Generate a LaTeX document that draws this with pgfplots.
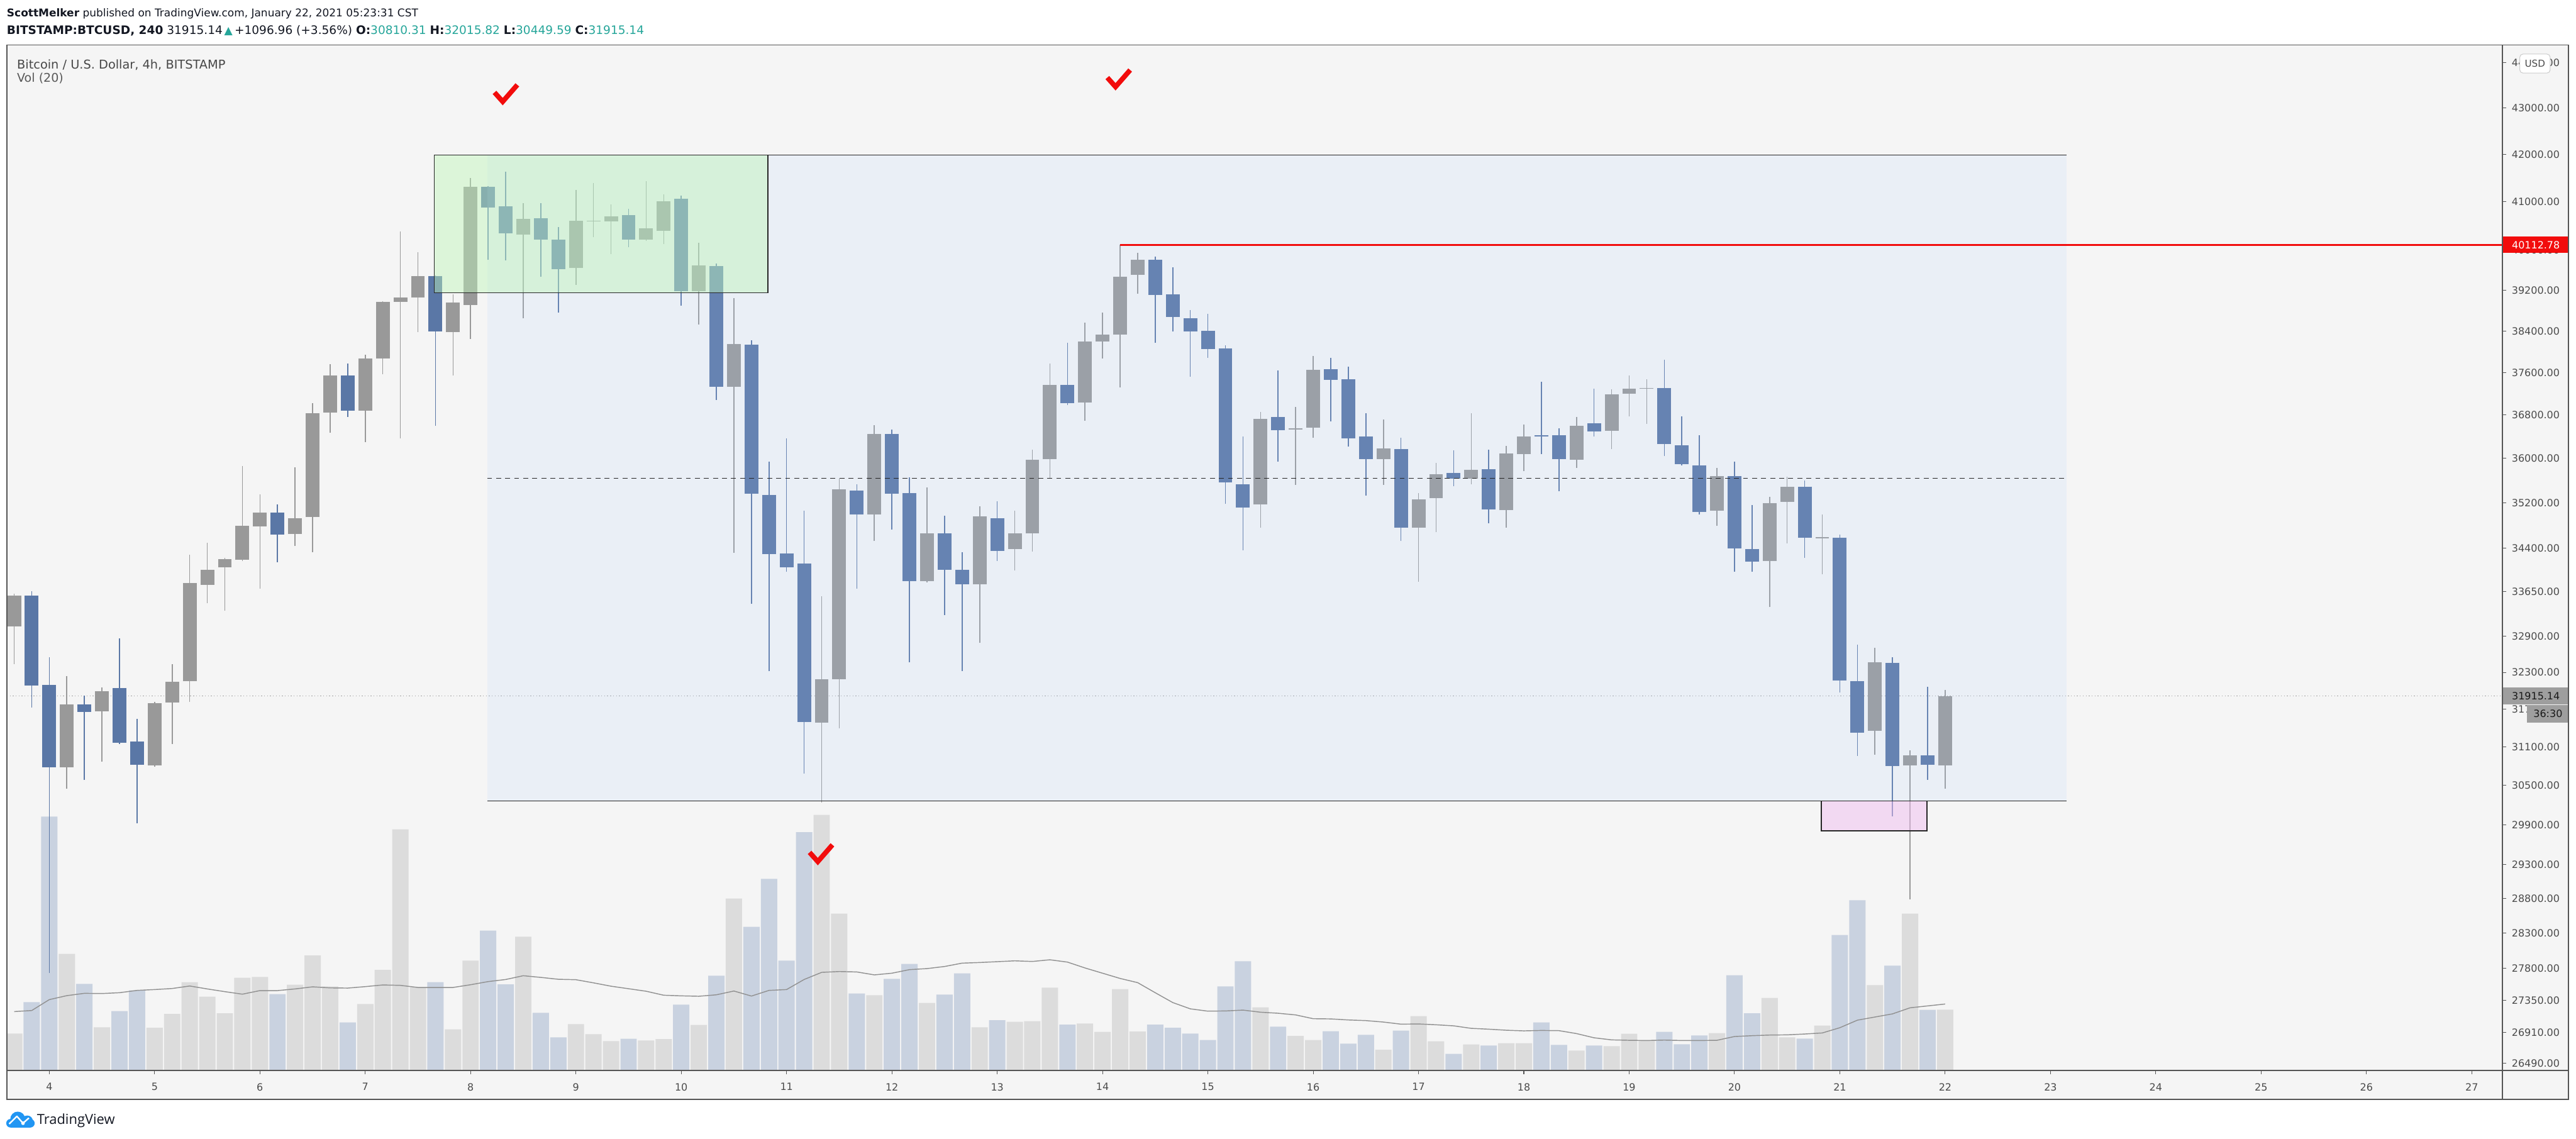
\documentclass[border=0pt]{standalone}
\usepackage{fontspec}
\setmainfont{DejaVu Sans}
\newfontfamily\opensans{Open Sans}
\usepackage{pgfplots}
\pgfplotsset{compat=1.18}
\definecolor{bgc}{RGB}{245,245,245}
\definecolor{framec}{RGB}{85,85,85}
\definecolor{upc}{RGB}{153,153,153}
\definecolor{dnc}{RGB}{90,119,166}
\definecolor{vup}{RGB}{220,220,220}
\definecolor{vdn}{RGB}{201,210,224}
\definecolor{mac}{RGB}{145,145,145}
\definecolor{boxblue}{RGB}{172,205,252}
\definecolor{boxgreen}{RGB}{190,245,185}
\definecolor{boxpink}{RGB}{240,190,240}
\definecolor{tvred}{RGB}{242,12,12}
\definecolor{tvgreen}{RGB}{38,166,154}
\definecolor{txt}{RGB}{19,23,34}
\definecolor{ticktxt}{RGB}{75,75,75}
\definecolor{tvblue}{RGB}{33,150,243}
\newcommand\ticklbl{\fontsize{6.1}{7.5}\selectfont}
\pgfplotsset{chartaxis/.style={scale only axis, width=1519.1pt, height=624.3pt,
  xmin=-2.4146, xmax=139.757, anchor=south west, at={(4.2pt,41.57pt)}}}
\begin{document}
\begin{tikzpicture}
\useasboundingbox (0,0) rectangle (1568pt,693.27pt);
\fill[white] (0,0) rectangle (1568pt,693.27pt);
\fill[bgc] (4.2pt,23.97pt) rectangle (1563.4pt,665.87pt);
% ---------------- volume ----------------
\begin{axis}[chartaxis, ymin=0, ymax=4892, hide axis]
\addplot[ybar, bar width=0.93, bar shift=0pt, fill=vup, draw=none] table[row sep=\\]{x y\\
-2 177\\1 557\\3 207\\6 205\\7 271\\8 422\\9 353\\10 274\\11 443\\12 447\\14 410\\15 550\\16 402\\18 318\\19 481\\20 1151\\21 398\\23 197\\24 525\\27 639\\30 222\\31 174\\32 141\\34 144\\35 151\\37 218\\39 821\\44 1220\\45 749\\47 360\\50 323\\53 207\\55 233\\56 236\\57 396\\59 225\\60 185\\61 389\\62 187\\69 302\\71 166\\72 146\\76 100\\78 260\\79 140\\81 125\\83 131\\84 131\\87 96\\89 117\\90 176\\91 145\\95 179\\98 347\\99 159\\101 215\\104 408\\106 749\\108 291\\};
\addplot[ybar, bar width=0.93, bar shift=0pt, fill=vdn, draw=none] table[row sep=\\]{x y\\
-1 327\\0 1212\\2 414\\4 284\\5 383\\13 365\\17 230\\22 422\\25 668\\26 412\\28 276\\29 159\\33 152\\36 315\\38 453\\40 686\\41 915\\42 525\\43 1138\\46 368\\48 438\\49 509\\51 363\\52 464\\54 241\\58 220\\63 220\\64 205\\65 177\\66 146\\67 402\\68 522\\70 210\\73 188\\74 129\\75 171\\77 191\\80 80\\82 120\\85 230\\86 123\\88 120\\92 185\\93 126\\94 168\\96 455\\97 274\\100 153\\102 647\\103 813\\105 501\\107 290\\};
\addplot[mac, line width=0.55pt, no marks] table[row sep=\\]{x y\\
-2 282\\-1 287\\0 339\\1 358\\2 369\\3 368\\4 372\\5 383\\6 387\\7 392\\8 404\\9 390\\10 377\\11 365\\12 382\\13 382\\14 390\\15 400\\16 395\\17 394\\18 401\\19 409\\20 407\\21 397\\22 397\\23 397\\24 410\\25 425\\26 435\\27 453\\28 445\\29 436\\30 434\\31 419\\32 403\\33 391\\34 379\\35 360\\36 357\\37 355\\38 362\\39 380\\40 356\\41 383\\42 387\\43 435\\44 469\\45 473\\46 471\\47 457\\48 465\\49 482\\50 487\\51 497\\52 513\\53 516\\54 520\\55 524\\56 521\\57 529\\58 518\\59 490\\60 465\\61 440\\62 420\\63 372\\64 325\\65 295\\66 284\\67 285\\68 289\\69 279\\70 274\\71 266\\72 248\\73 247\\74 242\\75 239\\76 232\\77 222\\78 223\\79 219\\80 214\\81 202\\82 198\\83 193\\84 190\\85 192\\86 191\\87 177\\88 157\\89 147\\90 145\\91 144\\92 146\\93 144\\94 144\\95 145\\96 163\\97 167\\98 170\\99 171\\100 175\\101 180\\102 205\\103 241\\104 256\\105 271\\106 300\\107 309\\108 318\\};
\end{axis}
% ---------------- price ----------------
\begin{axis}[chartaxis, ymode=log, ymin=26396, ymax=44397, clip=false,
  unbounded coords=jump, axis line style={draw=none},
  xtick={0,6,...,138}, xticklabels={4,5,6,7,8,9,10,11,12,13,14,15,16,17,18,19,20,21,22,23,24,25,26,27},
  ytick={26490,26910,27350,27800,28300,28800,29300,29900,30500,31100,31700,32300,32900,33650,34400,35200,36000,36800,37600,38400,39200,40000,41000,42000,43000,44000},
  yticklabels={26490.00,26910.00,27350.00,27800.00,28300.00,28800.00,29300.00,29900.00,30500.00,31100.00,31700.00,32300.00,32900.00,33650.00,34400.00,35200.00,36000.00,36800.00,37600.00,38400.00,39200.00,40000.00,41000.00,42000.00,43000.00,44000.00},
  yminorticks=false, xminorticks=false,
  xtick pos=bottom, ytick pos=right, yticklabel pos=right,
  tick align=outside, major tick length=2.3pt,
  tick style={framec, line width=0.4pt},
  xticklabel style={font=\ticklbl, text=ticktxt, inner sep=0pt, anchor=north},
  yticklabel style={font=\ticklbl, text=ticktxt, inner sep=0pt, anchor=west},
  xticklabel shift=5.3pt, yticklabel shift=3.1pt]
\draw[gray!75, line width=0.4pt, dash pattern=on 0.5pt off 1.3pt] (axis cs:-2.4146,31915.14) -- (axis cs:139.757,31915.14);
% up wicks
\addplot[upc, line width=0.6pt, no marks] table[row sep=\\]{x y\\
-2 32435\\-2 33617\\-2 nan\\
1 30446\\1 32240\\1 nan\\
3 30870\\3 32054\\3 nan\\
6 30790\\6 31817\\6 nan\\
7 31148\\7 32435\\7 nan\\
8 31817\\8 34286\\8 nan\\
9 33453\\9 34493\\9 nan\\
10 33325\\10 34225\\10 nan\\
11 34170\\11 35863\\11 nan\\
12 33700\\12 35351\\12 nan\\
14 34432\\14 35839\\14 nan\\
15 34332\\15 37026\\15 nan\\
16 36469\\16 37763\\16 nan\\
18 36305\\18 37950\\18 nan\\
19 37571\\19 38990\\19 nan\\
20 36363\\20 40384\\20 nan\\
21 38378\\21 39972\\21 nan\\
23 37546\\23 39123\\23 nan\\
24 38249\\24 41502\\24 nan\\
27 38652\\27 40968\\27 nan\\
30 39316\\30 41243\\30 nan\\
31 40277\\31 41390\\31 nan\\
32 39936\\32 40941\\32 nan\\
34 40200\\34 41427\\34 nan\\
35 40134\\35 41152\\35 nan\\
37 38532\\37 40152\\37 nan\\
39 34317\\39 39044\\39 nan\\
44 30241\\44 33572\\44 nan\\
45 31401\\45 35630\\45 nan\\
47 34523\\47 36617\\47 nan\\
50 33810\\50 35478\\50 nan\\
53 32786\\53 35140\\53 nan\\
55 34010\\55 35054\\55 nan\\
56 34340\\56 36159\\56 nan\\
57 35646\\57 37780\\57 nan\\
59 36698\\59 38566\\59 nan\\
60 37864\\60 38764\\60 nan\\
61 37319\\61 40113\\61 nan\\
62 39140\\62 39963\\62 nan\\
69 34756\\69 36862\\69 nan\\
71 35518\\71 36952\\71 nan\\
72 36379\\72 37924\\72 nan\\
76 35518\\76 36715\\76 nan\\
78 33820\\78 35375\\78 nan\\
79 34678\\79 35919\\79 nan\\
81 35534\\81 36829\\81 nan\\
83 34761\\83 36231\\83 nan\\
84 35767\\84 36628\\84 nan\\
87 35823\\87 36763\\87 nan\\
89 36173\\89 37281\\89 nan\\
90 36773\\90 37539\\90 nan\\
91 36638\\91 37480\\91 nan\\
95 34788\\95 35833\\95 nan\\
98 33389\\98 35305\\98 nan\\
99 34485\\99 35663\\99 nan\\
101 33943\\101 34990\\101 nan\\
104 30983\\104 32709\\104 nan\\
106 28789\\106 31050\\106 nan\\
108 30450\\108 32016\\108 nan\\};
% up bodies
\addplot[upc, line width=8.39pt, line cap=butt, no marks] table[row sep=\\]{x y\\
-2 33057\\-2 33580\\-2 nan\\
1 30781\\1 31782\\1 nan\\
3 31667\\3 31997\\3 nan\\
6 30809\\6 31803\\6 nan\\
7 31810\\7 32147\\7 nan\\
8 32154\\8 33797\\8 nan\\
9 33767\\9 34026\\9 nan\\
10 34064\\10 34209\\10 nan\\
11 34194\\11 34787\\11 nan\\
12 34779\\12 35030\\12 nan\\
14 34646\\14 34921\\14 nan\\
15 34944\\15 36838\\15 nan\\
16 36854\\16 37546\\16 nan\\
18 36879\\18 37873\\18 nan\\
19 37864\\19 38974\\19 nan\\
20 38974\\20 39070\\20 nan\\
21 39070\\21 39491\\21 nan\\
23 38378\\23 38957\\23 nan\\
24 38921\\24 41307\\24 nan\\
27 40322\\27 40639\\27 nan\\
30 39650\\30 40602\\30 nan\\
31 40593\\31 40611\\31 nan\\
32 40593\\32 40703\\32 nan\\
34 40214\\34 40447\\34 nan\\
35 40402\\35 41014\\35 nan\\
37 39193\\37 39695\\37 nan\\
39 37336\\39 38155\\39 nan\\
44 31485\\44 32190\\44 nan\\
45 32190\\45 35438\\45 nan\\
47 34991\\47 36445\\47 nan\\
50 33827\\50 34662\\50 nan\\
53 33775\\53 34960\\53 nan\\
55 34386\\55 34654\\55 nan\\
56 34654\\56 35975\\56 nan\\
57 35983\\57 37370\\57 nan\\
59 37034\\59 38198\\59 nan\\
60 38198\\60 38335\\60 nan\\
61 38335\\61 39473\\61 nan\\
62 39517\\62 39820\\62 nan\\
69 35171\\69 36731\\69 nan\\
71 36526\\71 36559\\71 nan\\
72 36567\\72 37654\\72 nan\\
76 35991\\76 36183\\76 nan\\
78 34756\\78 35265\\78 nan\\
79 35281\\79 35718\\79 nan\\
81 35630\\81 35798\\81 nan\\
83 35073\\83 36087\\83 nan\\
84 36077\\84 36405\\84 nan\\
87 35974\\87 36599\\87 nan\\
89 36511\\89 37191\\89 nan\\
90 37201\\90 37301\\90 nan\\
91 37291\\91 37311\\91 nan\\
95 35063\\95 35682\\95 nan\\
98 34176\\98 35192\\98 nan\\
99 35220\\99 35484\\99 nan\\
101 34577\\101 34595\\101 nan\\
104 31355\\104 32467\\104 nan\\
106 30811\\106 30965\\106 nan\\
108 30810\\108 31915\\108 nan\\};
% down wicks
\addplot[dnc, line width=0.6pt, no marks] table[row sep=\\]{x y\\
-1 31732\\-1 33655\\-1 nan\\
0 27730\\0 32544\\0 nan\\
2 30583\\2 31925\\2 nan\\
4 31150\\4 32859\\4 nan\\
5 29920\\5 31548\\5 nan\\
13 34156\\13 35171\\13 nan\\
17 36764\\17 37780\\17 nan\\
22 36600\\22 39500\\22 nan\\
25 39811\\25 41320\\25 nan\\
26 39802\\26 41624\\26 nan\\
28 39473\\28 40977\\28 nan\\
29 38764\\29 40483\\29 nan\\
33 40071\\33 40858\\33 nan\\
36 38895\\36 41124\\36 nan\\
38 37085\\38 39748\\38 nan\\
40 33438\\40 38232\\40 nan\\
41 32319\\41 35943\\41 nan\\
42 33987\\42 36371\\42 nan\\
43 30685\\43 35054\\43 nan\\
46 33700\\46 35526\\46 nan\\
48 34725\\48 36526\\48 nan\\
49 32464\\49 35662\\49 nan\\
51 33250\\51 34975\\51 nan\\
52 32319\\52 34324\\52 nan\\
54 34179\\54 35226\\54 nan\\
58 36985\\58 38172\\58 nan\\
63 38172\\63 39883\\63 nan\\
64 38395\\64 39668\\64 nan\\
65 37529\\65 38808\\65 nan\\
66 37890\\66 38738\\66 nan\\
67 35179\\67 38130\\67 nan\\
68 34363\\68 36395\\68 nan\\
70 35943\\70 37646\\70 nan\\
73 36682\\73 37881\\73 nan\\
74 36215\\74 37721\\74 nan\\
75 35328\\75 36829\\75 nan\\
77 34523\\77 36379\\77 nan\\
80 35494\\80 36143\\80 nan\\
82 34834\\82 36159\\82 nan\\
85 36077\\85 37430\\85 nan\\
86 35409\\86 36550\\86 nan\\
88 36395\\88 37301\\88 nan\\
92 36040\\92 37848\\92 nan\\
93 35880\\93 36773\\93 nan\\
94 34990\\94 36424\\94 nan\\
96 33988\\96 35946\\96 nan\\
97 33988\\97 35164\\97 nan\\
100 34229\\100 35606\\100 nan\\
102 31966\\102 34641\\102 nan\\
103 30959\\103 32753\\103 nan\\
105 30030\\105 32553\\105 nan\\
107 30585\\107 32060\\107 nan\\};
% down bodies
\addplot[dnc, line width=8.39pt, line cap=butt, no marks] table[row sep=\\]{x y\\
-1 33580\\-1 32082\\-1 nan\\
0 32089\\0 30781\\0 nan\\
2 31782\\2 31660\\2 nan\\
4 32047\\4 31169\\4 nan\\
5 31183\\5 30822\\5 nan\\
13 35030\\13 34639\\13 nan\\
17 37546\\17 36887\\17 nan\\
22 39491\\22 38395\\22 nan\\
25 41307\\25 40877\\25 nan\\
26 40904\\26 40349\\26 nan\\
28 40657\\28 40223\\28 nan\\
29 40223\\29 39623\\29 nan\\
33 40721\\33 40214\\33 nan\\
36 41069\\36 39193\\36 nan\\
38 39686\\38 37328\\38 nan\\
40 38138\\40 35359\\40 nan\\
41 35343\\41 34301\\41 nan\\
42 34309\\42 34071\\42 nan\\
43 34125\\43 31499\\43 nan\\
46 35422\\46 34991\\46 nan\\
48 36445\\48 35359\\48 nan\\
49 35367\\49 33827\\49 nan\\
51 34654\\51 34026\\51 nan\\
52 34018\\52 33775\\52 nan\\
54 34929\\54 34355\\54 nan\\
58 37370\\58 37026\\58 nan\\
63 39820\\63 39114\\63 nan\\
64 39132\\64 38677\\64 nan\\
65 38652\\65 38395\\65 nan\\
66 38412\\66 38061\\66 nan\\
67 38069\\67 35566\\67 nan\\
68 35534\\68 35116\\68 nan\\
70 36764\\70 36518\\70 nan\\
73 37671\\73 37462\\73 nan\\
74 37470\\74 36371\\74 nan\\
75 36395\\75 35983\\75 nan\\
77 36167\\77 34756\\77 nan\\
80 35734\\80 35638\\80 nan\\
82 35806\\82 35077\\82 nan\\
85 36424\\85 36395\\85 nan\\
86 36424\\86 35983\\86 nan\\
88 36647\\88 36492\\88 nan\\
92 37311\\92 36270\\92 nan\\
93 36240\\93 35898\\93 nan\\
94 35880\\94 35036\\94 nan\\
96 35682\\96 34393\\96 nan\\
97 34384\\97 34167\\97 nan\\
100 35493\\100 34586\\100 nan\\
102 34586\\102 32170\\102 nan\\
103 32153\\103 31331\\103 nan\\
105 32458\\105 30803\\105 nan\\
107 30965\\107 30819\\107 nan\\};
% drawings
\fill[boxblue, fill opacity=0.15] (axis cs:24.94,30259) rectangle (axis cs:114.93,41980);
\draw[black!85, line width=0.45pt] (axis cs:24.94,41980) -- (axis cs:114.93,41980);
\draw[black!85, line width=0.45pt] (axis cs:24.94,30259) -- (axis cs:114.93,30259);
\draw[black!85, line width=0.5pt, dash pattern=on 3pt off 2.5pt] (axis cs:24.94,35640) -- (axis cs:114.93,35640);
\filldraw[fill=boxgreen, fill opacity=0.45, draw=black!85, line width=0.5pt] (axis cs:21.93,39156) rectangle (axis cs:40.94,41980);
\filldraw[fill=boxpink, fill opacity=0.5, draw=black!85, line width=0.5pt] (axis cs:100.94,29808) rectangle (axis cs:106.96,30259);
\draw[tvred, line width=1.0pt] (axis cs:61,40112.78) -- (axis cs:139.757,40112.78);
\draw[tvred, line width=3pt, line join=miter] (axis cs:25.83,43136) ++(-5pt,5.6pt) -- ++(5pt,-5.6pt) -- ++(8.9pt,10.2pt);
\draw[tvred, line width=3pt, line join=miter] (axis cs:60.74,43461) ++(-5pt,5.6pt) -- ++(5pt,-5.6pt) -- ++(8.9pt,10.2pt);
\draw[tvred, line width=3pt, line join=miter] (axis cs:43.78,29345) ++(-5pt,5.6pt) -- ++(5pt,-5.6pt) -- ++(8.9pt,10.2pt);
\node[fill=tvred, text=white, anchor=west, minimum width=40.1pt, minimum height=10pt, inner sep=0pt, font=\ticklbl] at (axis cs:139.757,40112.78) {40112.78};
\node[fill=black!38, text=black!90, anchor=west, minimum width=40.1pt, minimum height=10.5pt, inner sep=0pt, font=\ticklbl] (pbox) at (axis cs:139.757,31915.14) {31915.14};
\node[fill=black!38, text=black!90, anchor=north east, minimum width=25.4pt, minimum height=10.5pt, inner sep=0pt, font=\ticklbl] at (pbox.south east) {36:30};
\end{axis}
% frame
\draw[framec, line width=0.7pt] (4.2pt,23.97pt) rectangle (1563.4pt,665.87pt);
\draw[framec, line width=0.7pt] (1523.3pt,23.97pt) -- (1523.3pt,665.87pt);
\draw[framec, line width=0.7pt] (4.2pt,41.57pt) -- (1563.4pt,41.57pt);
\node[draw=black!20, fill=white, rounded corners=2pt, minimum width=18.5pt, minimum height=11.6pt, inner sep=0pt, font=\fontsize{5.8}{7}\selectfont, text=ticktxt] at (1543pt,654.57pt) {USD};
% header
\node[anchor=base west, inner sep=0pt, text=txt, font=\fontsize{6.5}{8}\selectfont] at (4pt,683.07pt) {\textbf{ScottMelker} published on TradingView.com, January 22, 2021 05:23:31 CST};
\node[anchor=base west, inner sep=0pt, text=txt, font=\fontsize{7.1}{8}\selectfont] at (4pt,672.47pt) {\textbf{BITSTAMP:BTCUSD, 240} 31915.14{\color{tvgreen}\fontsize{6.6}{7}\selectfont\,▲}\,+1096.96 (+3.56\%) \textbf{O:}{\color{tvgreen}30810.31} \textbf{H:}{\color{tvgreen}32015.82} \textbf{L:}{\color{tvgreen}30449.59} \textbf{C:}{\color{tvgreen}31915.14}};
\node[anchor=base west, inner sep=0pt, text=black!72, font=\fontsize{7.4}{8}\selectfont] at (10.2pt,651.2pt) {Bitcoin / U.S. Dollar, 4h, BITSTAMP};
\node[anchor=base west, inner sep=0pt, text=black!65, font=\fontsize{7.3}{8}\selectfont] at (10.2pt,643.3pt) {Vol (20)};
% logo
\fill[tvblue] (3.8pt,6.97pt) [rounded corners=2.6pt] rectangle (21.1pt,12.2pt);
\fill[tvblue] (10.8pt,12.1pt) circle (4.55pt);
\fill[tvblue] (16.6pt,10.9pt) circle (3.4pt);
\draw[white, line width=0.9pt, line join=round] (5.6pt,9.2pt) -- (10.3pt,13.8pt) -- (14pt,9.6pt) -- (17.6pt,12.8pt);
\fill[white] (14pt,9.6pt) circle (1.1pt);
\node[anchor=base west, inner sep=0pt, text=txt, font=\opensans\fontsize{8.4}{10}\selectfont] at (22.3pt,9.07pt) {TradingView};
\end{tikzpicture}
\end{document}
